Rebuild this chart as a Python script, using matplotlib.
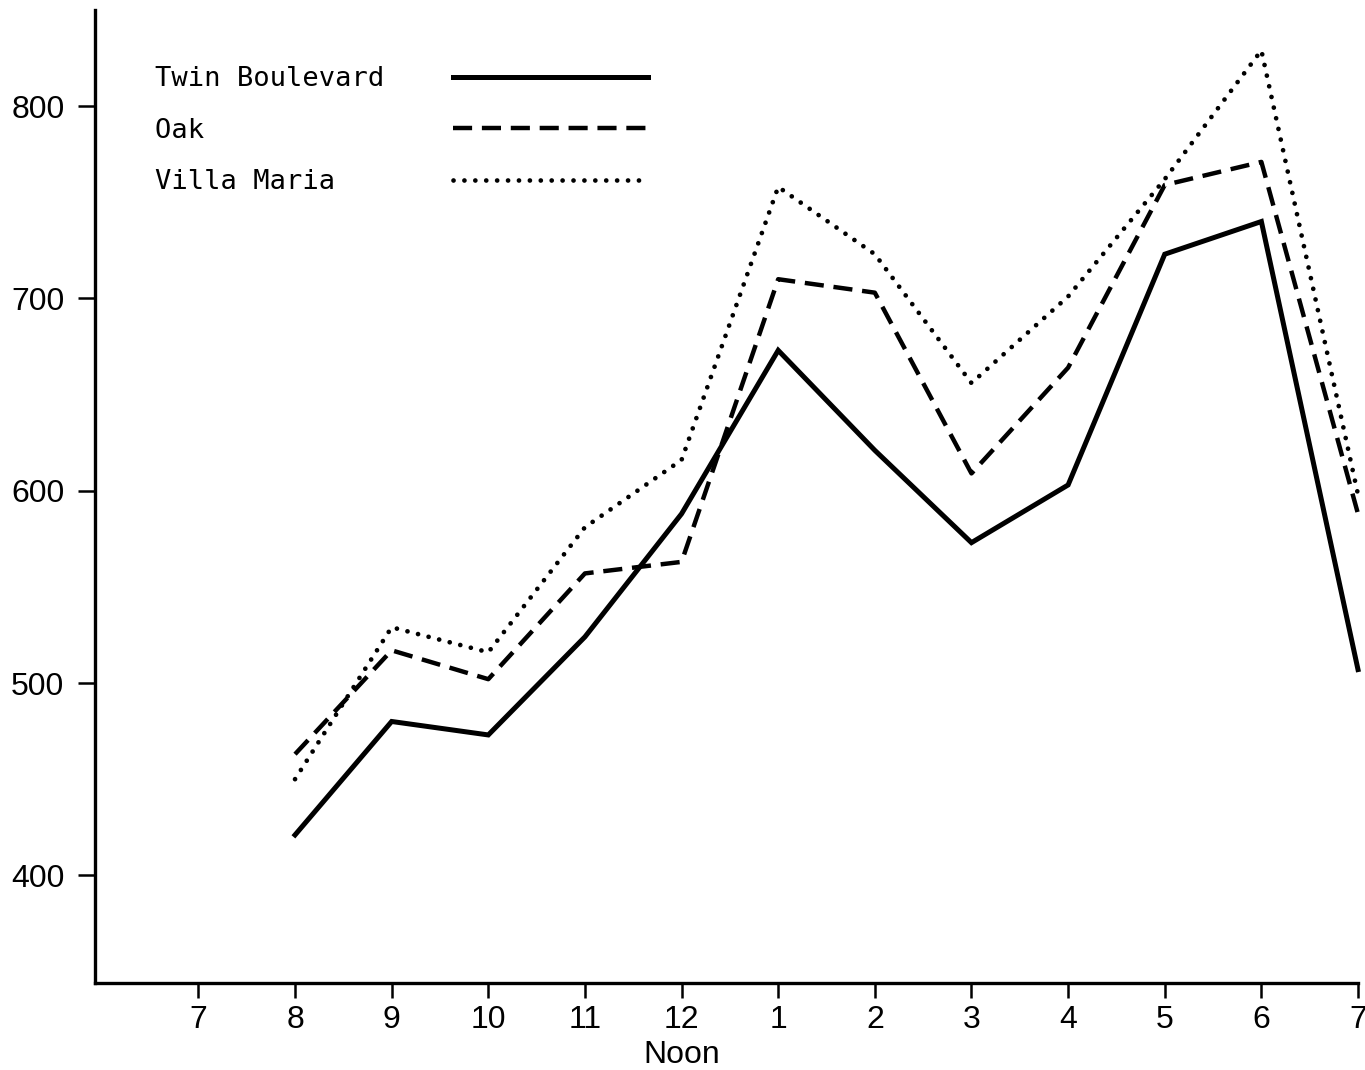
import matplotlib
matplotlib.use("Agg")
import matplotlib.pyplot as plt

# Hours: 7 AM ... 12 Noon ... 7 PM (numeric positions 7..19)
hours = [8, 9, 10, 11, 12, 13, 14, 15, 16, 17, 18, 19]
tick_positions = [7, 8, 9, 10, 11, 12, 13, 14, 15, 16, 17, 18, 19]
tick_labels = ["7", "8", "9", "10", "11", "12\nNoon", "1", "2", "3", "4", "5", "6", "7"]

twin_boulevard = [421, 480, 473, 524, 588, 673, 621, 573, 603, 723, 740, 507]
oak = [463, 517, 502, 557, 563, 710, 703, 609, 664, 759, 771, 588]
villa_maria = [450, 529, 516, 581, 616, 758, 723, 656, 701, 762, 829, 598]

y_ticks = [400, 500, 600, 700, 800]

W, H = 1365, 1070
fig = plt.figure(figsize=(W / 100, H / 100), dpi=100)
ax = fig.add_axes([95 / W, 1 - 983 / H, (1358 - 95) / W, (983 - 10) / H])

tick_font = {"family": ["Liberation Sans", "DejaVu Sans"], "size": 23}

l1, = ax.plot(hours, twin_boulevard, color="black", lw=3.6, solid_joinstyle="miter",
              clip_on=False)
l2, = ax.plot(hours, oak, color="black", lw=3.2, dashes=(4.3, 2.2), dash_capstyle="butt",
              clip_on=False)
l3, = ax.plot(hours, villa_maria, color="black", lw=3.4, dashes=(0.01, 2.3),
              dash_capstyle="round", clip_on=False)

ax.set_xlim(5.93, 19.0)
ax.set_ylim(344, 850)

ax.set_xticks(tick_positions)
ax.set_xticklabels(tick_labels, fontdict=tick_font, linespacing=1.2)
ax.set_yticks(y_ticks)
ax.set_yticklabels([str(v) for v in y_ticks], fontdict=tick_font)

for s in ["top", "right"]:
    ax.spines[s].set_visible(False)
for s in ["left", "bottom"]:
    ax.spines[s].set_linewidth(2.4)
    ax.spines[s].set_color("black")

ax.tick_params(axis="x", direction="out", length=11, width=1.8, pad=5, colors="black")
ax.tick_params(axis="y", direction="out", length=12, width=1.8, pad=10, colors="black")

labels = ["Twin Boulevard", "Oak", "Villa Maria"]
width = max(len(s) for s in labels)
padded = [s.ljust(width, "\u00a0") for s in labels]
leg = ax.legend([l1, l2, l3], padded, loc="upper left",
                bbox_to_anchor=(155 / W, 1 - 66 / H), bbox_transform=fig.transFigure,
                frameon=False, markerfirst=False, handlelength=7.2, handletextpad=2.55,
                labelspacing=0.95, borderpad=0, borderaxespad=0,
                prop={"family": ["DejaVu Sans Mono"], "size": 19.5})

fig.savefig("out.png", dpi=100, facecolor="white")
